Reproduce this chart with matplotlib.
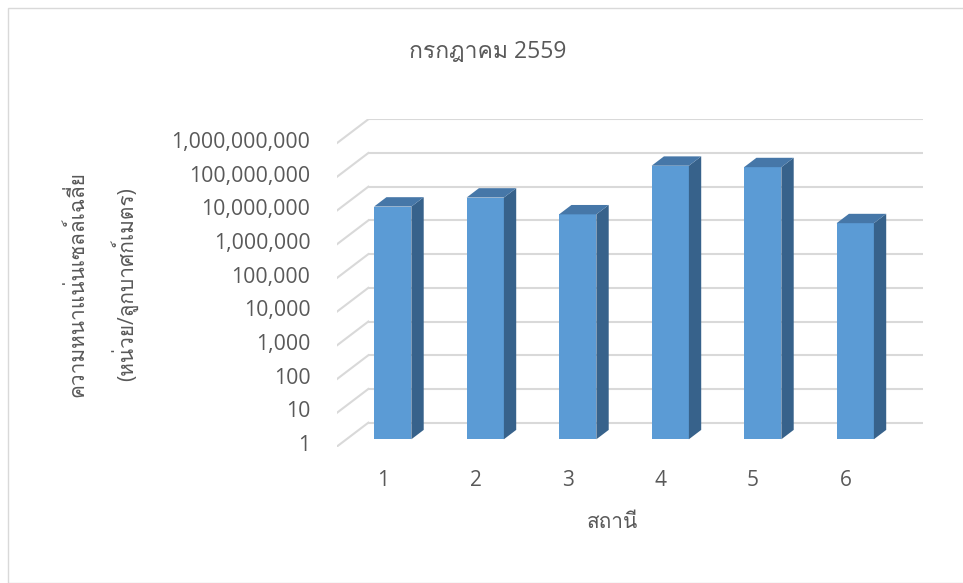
import numpy as np
import matplotlib
matplotlib.use("Agg")
from matplotlib import pyplot as plt
from matplotlib import font_manager
from matplotlib.ft2font import FT2Font
from matplotlib.patches import Polygon, Rectangle
from matplotlib.transforms import ScaledTranslation

# data
stations = [1, 2, 3, 4, 5, 6]
density = [8.0e6, 1.48e7, 4.7e6, 1.3e8, 1.18e8, 2.57e6]
ytick_vals = [1, 10, 100, 1e3, 1e4, 1e5, 1e6, 1e7, 1e8, 1e9]
ytick_labels = ["1", "10", "100", "1,000", "10,000", "100,000", "1,000,000",
                "10,000,000", "100,000,000", "1,000,000,000"]
title = "กรกฎาคม 2559"
xlabel = "สถานี"
ylabel = "ความหนาแน่นเซลล์เฉลี่ย\n(หน่วย/ลูกบาศก์เมตร)"

# find a font with thai glyphs
thai = None
for f in font_manager.fontManager.ttflist:
    try:
        if 0x0E01 in FT2Font(f.fname).get_charmap():
            thai = f.name
            break
    except Exception:
        pass
fams = ["Open Sans", thai, "DejaVu Sans"] if thai else ["Open Sans", "DejaVu Sans"]
plt.rcParams["font.family"] = fams

grey = "#595959"
gridc = "#d9d9d9"

fig = plt.figure(figsize=(9.63, 5.83), dpi=100)
ax = fig.add_axes([336.7 / 963, 1 - 446.7 / 583, (923.3 - 336.7) / 963, (446.7 - 119.3) / 583])

# pseudo 3d: wall depth in category units / decades
wall_dx = 31.6 / 92.5
wall_dy = 24 / 33.7
xmax = 6.5 + wall_dx
ax.set_yscale("log")
ax.set_xlim(0.5, xmax)
ax.set_ylim(1, 1e9 * 10 ** wall_dy)
for s in ax.spines.values():
    s.set_visible(False)

# back wall grid + left wall diagonals
for v in ytick_vals:
    vb = v * 10 ** wall_dy
    ax.plot([0.5 + wall_dx, xmax], [vb, vb], color=gridc, lw=1.5, zorder=1, solid_capstyle="butt")
    ax.plot([0.5, 0.5 + wall_dx], [v, vb], color=gridc, lw=1.5, zorder=1)

# bars
d0, d1 = 0.31, 0.70
w = 0.403
front = "#5b9bd5"
side = "#37628b"
top = "#4677a8"
for i, (x, v) in enumerate(zip(stations, density)):
    fx = x + d0 * wall_dx
    fy = 10 ** (d0 * wall_dy)
    bx = (d1 - d0) * wall_dx
    by = 10 ** ((d1 - d0) * wall_dy)
    ax.bar(fx, v * fy - fy, bottom=fy, width=w, color=front, zorder=3 + i)
    xl, xr = fx - w / 2, fx + w / 2
    ax.add_patch(Polygon([(xr, fy), (xr, v * fy), (xr + bx, v * fy * by), (xr + bx, fy * by)],
                         closed=True, color=side, zorder=3 + i, lw=0))
    ax.add_patch(Polygon([(xl, v * fy), (xr, v * fy), (xr + bx, v * fy * by), (xl + bx, v * fy * by)],
                         closed=True, color=top, zorder=3 + i, lw=0))

ax.set_yticks(ytick_vals)
ax.set_yticklabels(ytick_labels)
ax.minorticks_off()
ax.set_xticks(stations)
ax.set_xticklabels([str(s) for s in stations])
ax.tick_params(axis="y", length=0, pad=19, labelsize=15.3, labelcolor=grey)
ax.tick_params(axis="x", length=0, pad=17, labelsize=15, labelcolor=grey)
for lbl in ax.get_yticklabels():
    lbl.set_transform(lbl.get_transform() + ScaledTranslation(0, 3.5 / 100, fig.dpi_scale_trans))

fig.text(488 / 963, 1 - 52 / 583, title, ha="center", va="center", fontsize=16.5, color=grey)
fig.text(612 / 963, 1 - 523 / 583, xlabel, ha="center", va="center", fontsize=15, color=grey)
fig.text(102 / 963, 1 - 284 / 583, ylabel, ha="center", va="center", fontsize=15, color=grey,
         rotation=90, multialignment="center", linespacing=2.0)

fig.patches.append(Rectangle((8 / 963, 0), 1, 1 - 8 / 583, transform=fig.transFigure,
                             fill=False, edgecolor=gridc, lw=1))

fig.savefig("out.png", dpi=100)
